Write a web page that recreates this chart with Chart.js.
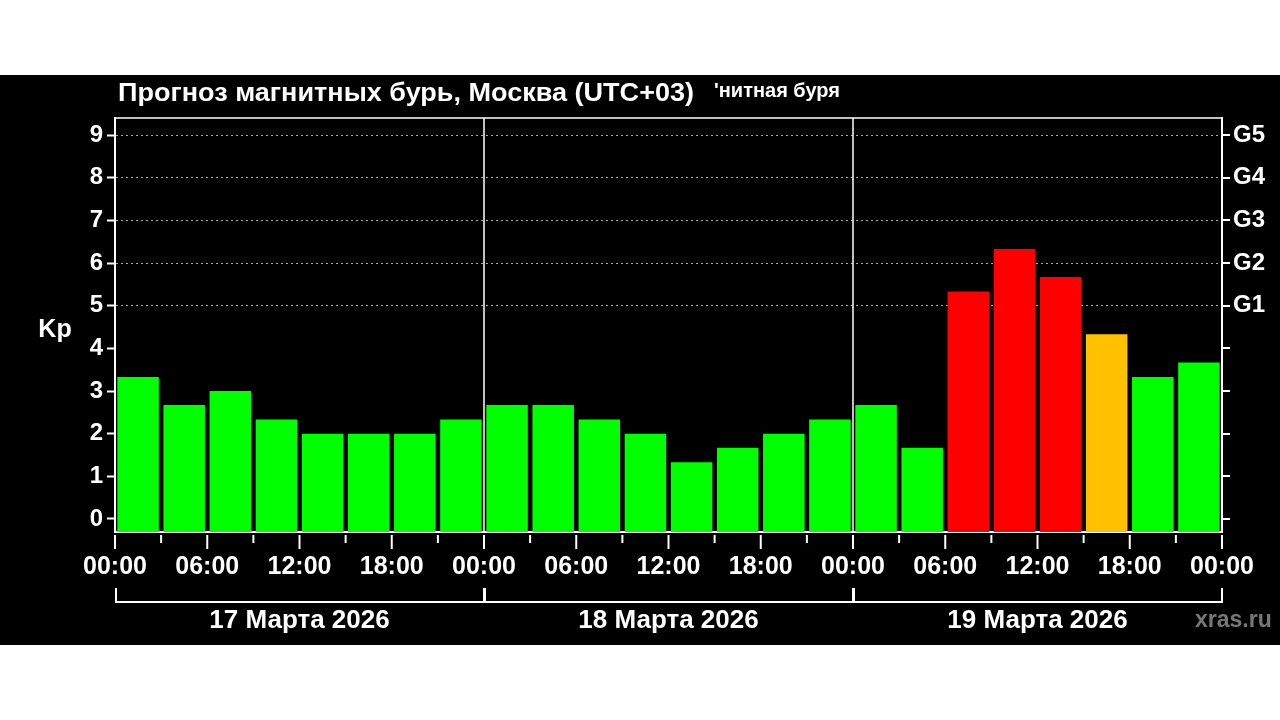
<!DOCTYPE html>
<html><head><meta charset="utf-8">
<script src="https://cdn.jsdelivr.net/npm/chart.js@4/dist/chart.umd.min.js"></script>
<style>html,body{margin:0;background:#fff;}#w{position:absolute;left:0;top:75px;width:1280px;height:570px;background:#000;}</style>
</head><body><div id="w"><canvas id="c" width="1280" height="570"></canvas></div>
<script>
const kpValues = [3.33,2.67,3.0,2.33,2.0,2.0,2.0,2.33, 2.67,2.67,2.33,2.0,1.33,1.67,2.0,2.33, 2.67,1.67,5.33,6.33,5.67,4.33,3.33,3.67];
const slots = kpValues.map((v,i)=>i);
const hourLabels = ["00:00","06:00","12:00","18:00"];
const dayLabels = ["17 Марта 2026","18 Марта 2026","19 Марта 2026"];
const gLabels = {5:"G1",6:"G2",7:"G3",8:"G4",9:"G5"};
const titleText = "Прогноз магнитных бурь, Москва (UTC+03)";
const yMin = -0.305, yMax = 9.4;
const F = "'Liberation Sans', Arial, sans-serif";
function col(v){return v>=5?'#ff0000':(v>=4?'#ffc000':'#00ff00');}

const extras = {
  id:'extras',
  afterDraw(ch){
    const c=ch.ctx, a=ch.chartArea, x=ch.scales.x;
    c.save();
    c.strokeStyle='#fff'; c.fillStyle='#fff';
    const w=(a.right-a.left)/24;
    c.lineWidth=1.5;
    for(let d=1;d<3;d++){const px=a.left+d*8*w; c.beginPath();c.moveTo(px,a.top);c.lineTo(px,a.bottom);c.stroke();}
    c.beginPath();c.moveTo(a.left,a.top);c.lineTo(a.right,a.top);c.stroke();
    c.lineWidth=2;
    for(let i=0;i<=24;i++){
      const px=(i<24? x.getPixelForValue(i)-w/2 : x.getPixelForValue(23)+w/2);
      const L = i%2==0?14:8;
      c.beginPath();c.moveTo(px,a.bottom+3);c.lineTo(px,a.bottom+3+L);c.stroke();
    }
    c.font='bold 25px '+F; c.textAlign='center'; c.textBaseline='middle';
    for(let i=0;i<=12;i++){
      const px=a.left+i*2*w;
      c.fillText(hourLabels[i%4],px,a.bottom+35);
    }
    c.font='bold 26px '+F;
    for(let d=0;d<3;d++){
      const x0=a.left+d*8*w, x1=a.left+(d+1)*8*w;
      c.beginPath();c.moveTo(x0+1,a.bottom+56);c.lineTo(x0+1,a.bottom+70);c.lineTo(x1,a.bottom+70);c.lineTo(x1,a.bottom+56);c.stroke();
      c.fillText(dayLabels[d],(x0+x1)/2,a.bottom+89);
    }
    c.font='bold 25px '+F;
    c.fillText('Kp',55,a.top+212);
    c.textAlign='left'; c.font='bold 26px '+F;
    c.save(); c.translate(118,19); c.scale(1.04,1); c.fillText(titleText,0,0); c.restore();
    c.font='bold 20px '+F;
    c.fillText('\'нитная буря',714,16);
    c.fillStyle='#777'; c.font='bold 23px '+F;
    c.fillText('xras.ru',1195,546);
    c.restore();
  }
};

new Chart(document.getElementById('c'),{
  type:'bar',
  data:{labels:slots,datasets:[{data:kpValues.map(v=>[yMin,v]),backgroundColor:kpValues.map(col),barPercentage:0.9,categoryPercentage:1,borderWidth:0,borderSkipped:false}]},
  options:{
    responsive:false,animation:false,
    layout:{padding:{top:43,left:0,right:0,bottom:0}},
    plugins:{legend:{display:false},tooltip:{enabled:false}},
    scales:{
      x:{offset:true,grid:{display:false},border:{color:'#fff',width:2},ticks:{display:false},afterFit(s){s.height=113;}},
      y:{min:yMin,max:yMax,afterFit(s){s.width=115;},
        afterBuildTicks(s){s.ticks=[0,1,2,3,4,5,6,7,8,9].map(v=>({value:v}));},
        border:{color:'#fff',width:2,dash:[2,3]},
        grid:{color:ctx=>ctx.tick&&ctx.tick.value>=5?'#aaa':'rgba(0,0,0,0)',tickColor:'#fff',tickLength:8,tickWidth:2,lineWidth:1},
        ticks:{color:'#fff',font:{family:F,size:24,weight:'bold'},padding:4}},
      y2:{position:'right',min:yMin,max:yMax,afterFit(s){s.width=58;},
        afterBuildTicks(s){s.ticks=[0,1,2,3,4,5,6,7,8,9].map(v=>({value:v}));},
        border:{color:'#fff',width:2},
        grid:{drawOnChartArea:false,color:'#fff',tickLength:8,lineWidth:2},
        ticks:{color:'#fff',font:{family:F,size:24,weight:'bold'},padding:3,callback:v=>gLabels[v]||''}}
    }
  },
  plugins:[extras]
});
</script></body></html>
